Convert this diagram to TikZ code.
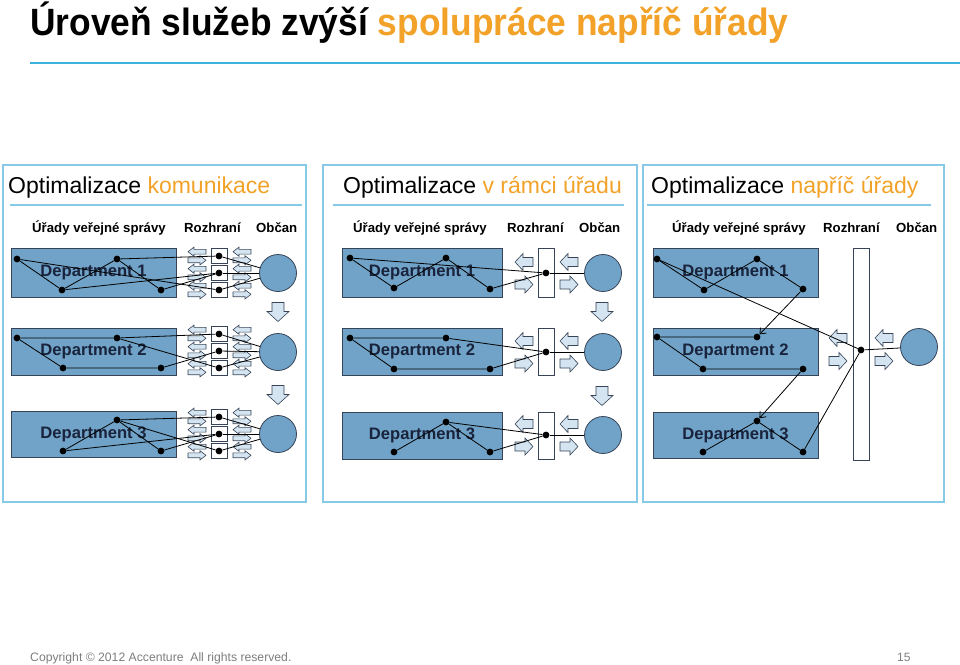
\documentclass[tikz,border=0pt]{standalone}
\usepackage{fontspec}
\setmainfont{Liberation Sans}
\usetikzlibrary{arrows.meta}
\definecolor{orng}{RGB}{242,162,40}
\definecolor{cyanline}{RGB}{60,178,220}
\definecolor{panelb}{RGB}{135,202,232}
\definecolor{deptfill}{RGB}{112,163,199}
\definecolor{deptdraw}{RGB}{55,68,88}
\definecolor{arrfill}{RGB}{212,228,240}
\definecolor{dtext}{RGB}{25,35,60}
\definecolor{footgray}{RGB}{125,125,125}
\begin{document}
\begin{tikzpicture}[x=1pt,y=-1pt,
  panel/.style={draw=panelb, line width=1.3pt},
  hline/.style={draw=panelb, line width=1.3pt},
  dept/.style={draw=deptdraw, fill=deptfill, line width=1pt, inner sep=0pt,
    font=\bfseries\fontsize{16.6}{18}\selectfont, text=dtext},
  dot/.style={circle, fill=black, inner sep=0pt, minimum size=6.8pt},
  cit/.style={circle, draw=deptdraw, fill=deptfill, minimum size=37pt, inner sep=0pt, line width=0.8pt},
  sq/.style={draw=deptdraw, fill=white, minimum width=16pt, minimum height=14.5pt, inner sep=0pt, line width=0.7pt},
  tall/.style={draw=deptdraw, fill=white, minimum width=16pt, inner sep=0pt, line width=0.8pt},
  ln/.style={draw=black, line width=0.8pt},
  lnarr/.style={draw=black, line width=0.8pt, -{Straight Barb[length=5pt,width=8pt]}},
  hdr/.style={anchor=base west, inner sep=0pt, font=\fontsize{23}{26}\selectfont},
  col/.style={anchor=base west, inner sep=0pt, font=\bfseries\fontsize{13.2}{15}\selectfont},
  arrsty/.style={draw=deptdraw, fill=arrfill, line width=0.6pt},
  pics/sL/.style={code={\path[arrsty] (-9,0)--(-3,-4.6)--(-3,-2.4)--(9,-2.4)--(9,2.4)--(-3,2.4)--(-3,4.6)--cycle;}},
  pics/sR/.style={code={\path[arrsty] (9,0)--(3,-4.6)--(3,-2.4)--(-9,-2.4)--(-9,2.4)--(3,2.4)--(3,4.6)--cycle;}},
  pics/bL/.style={code={\path[arrsty] (-9,0)--(-1,-8.5)--(-1,-4.5)--(9,-4.5)--(9,4.5)--(-1,4.5)--(-1,8.5)--cycle;}},
  pics/bR/.style={code={\path[arrsty] (9,0)--(1,-8.5)--(1,-4.5)--(-9,-4.5)--(-9,4.5)--(1,4.5)--(1,8.5)--cycle;}},
  pics/bD/.style={code={\path[arrsty] (0,9.5)--(-11,-0.5)--(-6,-0.5)--(-6,-9.5)--(6,-9.5)--(6,-0.5)--(11,-0.5)--cycle;}}
]
\useasboundingbox (0,0) rectangle (960,664);

% title
\node[anchor=base west, inner sep=0pt] (title) at (30,35)
  {\scalebox{0.93}[1]{\bfseries\fontsize{38}{42}\selectfont Úroveň služeb zvýší \textcolor{orng}{spolupráce napříč úřady}}};
\draw[draw=cyanline, line width=2pt] (30,63) -- (960,63);

% panels
\draw[panel] (3,165) rectangle (306,502);
\draw[panel] (323,165) rectangle (637,502);
\draw[panel] (643,165) rectangle (944,502);
\draw[hline] (10,205) -- (302,205);
\draw[hline] (333,205) -- (624,205);
\draw[hline] (647,205) -- (931,205);

\node[hdr] (h1) at (8,193) {Optimalizace \textcolor{orng}{komunikace}};
\node[hdr] (h2) at (343,193) {Optimalizace \textcolor{orng}{v rámci úřadu}};
\node[hdr] (h3) at (651,193) {Optimalizace \textcolor{orng}{napříč úřady}};

\node[col] (c11) at (32,232) {Úřady veřejné správy};
\node[col] (c12) at (184,232) {Rozhraní};
\node[col] (c13) at (256,232) {Občan};
\node[col] (c21) at (353,232) {Úřady veřejné správy};
\node[col] (c22) at (507,232) {Rozhraní};
\node[col] (c23) at (579,232) {Občan};
\node[col] (c31) at (672,232) {Úřady veřejné správy};
\node[col] (c32) at (823,232) {Rozhraní};
\node[col] (c33) at (896,232) {Občan};

% ================= panel 1 =================
\node[dept, minimum width=165pt, minimum height=49pt] (p1r1) at (93.5,272.5) {Department 1};
\node[dept, minimum width=165pt, minimum height=47pt] (p1r2) at (93.5,351.5) {Department 2};
\node[dept, minimum width=165pt, minimum height=46pt] (p1r3) at (93.5,434) {Department 3};

\foreach \yc in {256,273,290, 334,351,368, 417,434,451}{
  \pic at (197,\yc-4.3) {sL};
  \pic at (197,\yc+4.3) {sR};
  \pic at (242,\yc-4.3) {sL};
  \pic at (242,\yc+4.3) {sR};
}
\node[sq] (p1s11) at (219,256) {};
\node[sq] (p1s12) at (219,273) {};
\node[sq] (p1s13) at (219,290) {};
\node[sq] (p1s21) at (219,334) {};
\node[sq] (p1s22) at (219,351) {};
\node[sq] (p1s23) at (219,368) {};
\node[sq] (p1s31) at (219,417) {};
\node[sq] (p1s32) at (219,434) {};
\node[sq] (p1s33) at (219,451) {};

\node[cit] (p1o1) at (278,273) {};
\node[cit] (p1o2) at (278,352) {};
\node[cit] (p1o3) at (278,434) {};
\pic at (278,312) {bD};
\pic at (278,395) {bD};

\foreach \n/\y in {11/256,12/273,13/290,21/334,22/351,23/368,31/417,32/434,33/451}{
  \node[dot] (p1i\n) at (219,\y) {};
}
% row 1
\node[dot] (p1a1) at (17,259) {};
\node[dot] (p1b1) at (117,259) {};
\node[dot] (p1c1) at (62,290) {};
\node[dot] (p1d1) at (161,290) {};
\draw[ln] (p1a1) -- (p1c1) -- (p1b1) -- (p1d1);
\draw[ln] (p1b1) -- (p1i11);
\draw[ln] (p1a1) -- (p1i13);
\draw[ln] (p1c1) -- (p1i12);
\draw[ln] (p1d1) -- (p1i12);
\draw[ln] (p1i11) -- (p1o1);
\draw[ln] (p1i12) -- (p1o1);
\draw[ln] (p1i13) -- (p1o1);
% row 2
\node[dot] (p1a2) at (17,338) {};
\node[dot] (p1b2) at (117,338) {};
\node[dot] (p1c2) at (63,368) {};
\node[dot] (p1d2) at (161,368) {};
\draw[ln] (p1b2) -- (p1a2) -- (p1c2) -- (p1d2);
\draw[ln] (p1b2) -- (p1i21);
\draw[ln] (p1b2) -- (p1i23);
\draw[ln] (p1d2) -- (p1i22);
\draw[ln] (p1i21) -- (p1o2);
\draw[ln] (p1i22) -- (p1o2);
\draw[ln] (p1i23) -- (p1o2);
% row 3
\node[dot] (p1b3) at (117,420) {};
\node[dot] (p1c3) at (63,451) {};
\node[dot] (p1d3) at (161,451) {};
\draw[ln] (p1c3) -- (p1b3) -- (p1d3);
\draw[ln] (p1b3) -- (p1i31);
\draw[ln] (p1b3) -- (p1i33);
\draw[ln] (p1c3) -- (p1i32);
\draw[ln] (p1d3) -- (p1i32);
\draw[ln] (p1i31) -- (p1o3);
\draw[ln] (p1i32) -- (p1o3);
\draw[ln] (p1i33) -- (p1o3);

% ================= panel 2 =================
\node[dept, minimum width=160pt, minimum height=49pt] (p2r1) at (422,272.5) {Department 1};
\node[dept, minimum width=160pt, minimum height=47pt] (p2r2) at (422,351.5) {Department 2};
\node[dept, minimum width=160pt, minimum height=47pt] (p2r3) at (422,435.5) {Department 3};

\foreach \yc in {273,352,435}{
  \pic at (524,\yc-11) {bL};
  \pic at (524,\yc+11.5) {bR};
  \pic at (569,\yc-11) {bL};
  \pic at (569,\yc+11.5) {bR};
}
\node[tall, minimum height=49pt] (p2t1) at (546,272.5) {};
\node[tall, minimum height=47pt] (p2t2) at (546,351.5) {};
\node[tall, minimum height=47pt] (p2t3) at (546,435.5) {};
\node[cit] (p2o1) at (603,273) {};
\node[cit] (p2o2) at (603,352) {};
\node[cit] (p2o3) at (603,435) {};
\pic at (602,312) {bD};
\pic at (602,396) {bD};

\node[dot] (p2i1) at (546,273) {};
\node[dot] (p2i2) at (546,352) {};
\node[dot] (p2i3) at (546,435) {};
% row 1
\node[dot] (p2a1) at (350,258) {};
\node[dot] (p2b1) at (446,258) {};
\node[dot] (p2c1) at (394,288) {};
\node[dot] (p2d1) at (490,289) {};
\draw[ln] (p2a1) -- (p2c1) -- (p2b1) -- (p2d1);
\draw[ln] (p2a1) -- (p2i1);
\draw[ln] (p2d1) -- (p2i1);
\draw[ln] (p2i1) -- (p2o1);
% row 2
\node[dot] (p2a2) at (350,338) {};
\node[dot] (p2b2) at (446,338) {};
\node[dot] (p2c2) at (394,369) {};
\node[dot] (p2d2) at (490,369) {};
\draw[ln] (p2i2) -- (p2b2) -- (p2a2) -- (p2c2) -- (p2d2) -- (p2i2);
\draw[ln] (p2i2) -- (p2o2);
% row 3
\node[dot] (p2b3) at (446,422) {};
\node[dot] (p2c3) at (394,452) {};
\node[dot] (p2d3) at (490,452) {};
\draw[ln] (p2c3) -- (p2b3) -- (p2d3) -- (p2i3);
\draw[ln] (p2b3) -- (p2i3);
\draw[ln] (p2i3) -- (p2o3);

% ================= panel 3 =================
\node[dept, minimum width=165pt, minimum height=49pt] (p3r1) at (735.5,272.5) {Department 1};
\node[dept, minimum width=165pt, minimum height=47pt] (p3r2) at (735.5,351.5) {Department 2};
\node[dept, minimum width=165pt, minimum height=46pt] (p3r3) at (735.5,435) {Department 3};

\pic at (838,338) {bL};
\pic at (838,361) {bR};
\pic at (884,338) {bL};
\pic at (884,361) {bR};
\node[tall, minimum height=212pt] (p3t) at (861,354) {};
\node[cit] (p3o) at (919,347) {};
\node[dot] (p3i) at (861,350) {};

\node[dot] (p3a1) at (657,259) {};
\node[dot] (p3b1) at (757,259) {};
\node[dot] (p3c1) at (704,290) {};
\node[dot] (p3d1) at (803,289) {};
\node[dot] (p3a2) at (657,337) {};
\node[dot] (p3b2) at (757,337) {};
\node[dot] (p3c2) at (703,369) {};
\node[dot] (p3d2) at (803,369) {};
\node[dot] (p3b3) at (757,421) {};
\node[dot] (p3c3) at (703,452) {};
\node[dot] (p3d3) at (803,452) {};
\draw[ln] (p3a1) -- (p3c1) -- (p3b1) -- (p3d1);
\draw[ln] (p3a1) -- (p3i);
\draw[lnarr] (p3d1) -- (p3b2);
\draw[ln] (p3b2) -- (p3a2) -- (p3c2) -- (p3d2);
\draw[lnarr] (p3d2) -- (p3b3);
\draw[ln] (p3c3) -- (p3b3) -- (p3d3) -- (p3i);
\draw[ln] (p3i) -- (p3o);

% footer
\node[anchor=base west, inner sep=0pt, text=footgray] (copy) at (30,661)
  {\fontsize{12.2}{14}\selectfont Copyright © 2012 Accenture\ \ All rights reserved.};
\node[anchor=base west, inner sep=0pt, text=footgray, font=\fontsize{12}{14}\selectfont] (pg) at (897,661) {15};
\end{tikzpicture}
\end{document}
